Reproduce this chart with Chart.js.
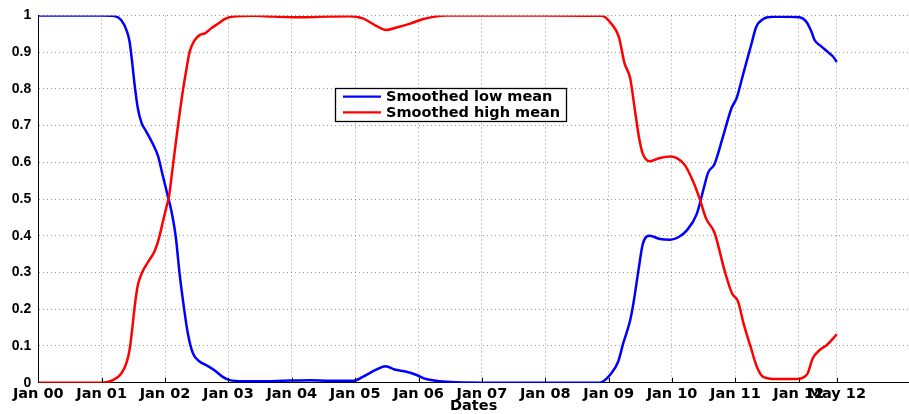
<!DOCTYPE html>
<html><head><meta charset="utf-8">
<script src="https://cdn.jsdelivr.net/npm/chart.js@4.4.1/dist/chart.umd.min.js"></script>
<style>html,body{margin:0;padding:0;background:#fff;}</style>
</head><body>
<canvas id="c" width="909" height="414"></canvas>
<script>
// Years since Jan 00 (x) and values for each series
const lowYears = [0,1.0,1.18,1.31,1.40,1.44,1.48,1.52,1.57,1.63,1.70,1.81,1.89,1.96,2.03,2.10,2.17,2.23,2.29,2.36,2.44,2.55,2.65,2.78,2.91,3.02,3.23,3.6,4.0,4.28,4.6,4.97,5.12,5.34,5.48,5.62,5.81,5.97,6.12,6.33,6.6,7.0,8.0,8.86,8.94,9.02,9.15,9.23,9.34,9.39,9.47,9.54,9.65,9.81,9.97,10.10,10.23,10.39,10.49,10.57,10.67,10.80,10.94,11.02,11.12,11.25,11.33,11.44,11.60,11.86,12.01,12.12,12.20,12.25,12.36,12.46,12.54,12.6];
const lowValues = [1,1,0.999,0.987,0.956,0.929,0.874,0.811,0.748,0.707,0.685,0.649,0.617,0.567,0.518,0.468,0.396,0.296,0.215,0.134,0.080,0.057,0.048,0.034,0.016,0.007,0.004,0.004,0.006,0.007,0.005,0.005,0.016,0.036,0.045,0.036,0.030,0.021,0.010,0.004,0.001,0,0,0,0.007,0.021,0.057,0.107,0.170,0.215,0.305,0.378,0.400,0.391,0.389,0.396,0.414,0.459,0.522,0.572,0.595,0.667,0.748,0.775,0.838,0.920,0.969,0.990,0.996,0.996,0.995,0.983,0.956,0.933,0.915,0.900,0.888,0.873];
const highYears = [0,1.0,1.18,1.31,1.39,1.44,1.48,1.52,1.57,1.64,1.73,1.84,1.90,1.97,2.02,2.06,2.12,2.20,2.28,2.34,2.39,2.47,2.55,2.63,2.73,2.84,2.94,3.07,3.39,3.70,4.23,4.55,4.91,5.12,5.34,5.49,5.65,5.86,6.05,6.23,6.44,7,8,8.89,9.04,9.16,9.25,9.34,9.41,9.48,9.54,9.65,9.81,9.97,10.07,10.20,10.33,10.43,10.54,10.67,10.83,10.95,11.04,11.13,11.24,11.34,11.44,11.65,11.96,12.07,12.14,12.22,12.33,12.44,12.54,12.6];
const highValues = [0,0,0.007,0.025,0.053,0.089,0.143,0.206,0.265,0.301,0.328,0.360,0.391,0.441,0.477,0.504,0.585,0.694,0.793,0.856,0.902,0.933,0.947,0.951,0.965,0.978,0.990,0.997,0.999,0.997,0.995,0.997,0.998,0.992,0.971,0.960,0.967,0.977,0.989,0.996,1.0,1,1,0.999,0.978,0.942,0.870,0.829,0.748,0.667,0.623,0.603,0.612,0.616,0.612,0.593,0.549,0.504,0.446,0.409,0.305,0.242,0.222,0.161,0.098,0.043,0.016,0.010,0.010,0.014,0.025,0.066,0.089,0.102,0.120,0.132];
const tickYears = [0,1,2,3,4,5,6,7,8,9,10,11,12,12.6];
const tickLabels = ['Jan 00','Jan 01','Jan 02','Jan 03','Jan 04','Jan 05','Jan 06','Jan 07','Jan 08','Jan 09','Jan 10','Jan 11','Jan 12','May 12'];
const seriesLabels = ['Smoothed low mean','Smoothed high mean'];

const legendPlugin = {
  id: 'boxLegend',
  afterDraw(chart) {
    const ctx = chart.ctx;
    ctx.save();
    const bx = 335, by = 88, bw = 231, bh = 33;
    ctx.fillStyle = '#fff';
    ctx.fillRect(bx, by, bw, bh);
    ctx.strokeStyle = '#000';
    ctx.lineWidth = 1.3;
    ctx.strokeRect(bx + 0.5, by + 0.5, bw, bh);
    const rows = [96.7, 112.3];
    chart.data.datasets.forEach((ds, i) => {
      ctx.strokeStyle = ds.borderColor;
      ctx.lineWidth = 2.2;
      ctx.beginPath();
      ctx.moveTo(343, rows[i]);
      ctx.lineTo(381, rows[i]);
      ctx.stroke();
      ctx.fillStyle = '#000';
      ctx.font = "bold 14.5px 'DejaVu Sans'";
      ctx.textBaseline = 'middle';
      ctx.textAlign = 'left';
      ctx.fillText(ds.label, 386, rows[i] + 0.5);
    });
    ctx.restore();
  }
};

const tickMarkPlugin = {
  id: 'inTicks',
  afterDatasetsDraw(chart) {
    const ctx = chart.ctx, xs = chart.scales.x, ca = chart.chartArea;
    ctx.save();
    ctx.strokeStyle = '#000';
    ctx.lineWidth = 1;
    xs.ticks.forEach(t => {
      const px = Math.round(xs.getPixelForValue(t.value)) + 0.5;
      ctx.beginPath();
      ctx.moveTo(px, ca.bottom);
      ctx.lineTo(px, ca.bottom - 5);
      ctx.stroke();
    });
    ctx.restore();
  }
};

new Chart(document.getElementById('c'), {
  type: 'line',
  data: {
    datasets: [
      { label: seriesLabels[0], data: lowYears.map((x, i) => ({ x, y: lowValues[i] })),
        borderColor: '#0000ff', borderWidth: 2.5, pointRadius: 0, fill: false,
        cubicInterpolationMode: 'monotone', order: 1 },
      { label: seriesLabels[1], data: highYears.map((x, i) => ({ x, y: highValues[i] })),
        borderColor: '#ff0000', borderWidth: 2.5, pointRadius: 0, fill: false,
        cubicInterpolationMode: 'monotone', order: 0 }
    ]
  },
  options: {
    responsive: false,
    animation: false,
    layout: { padding: { top: 13.7, left: 0, right: 0, bottom: 0 } },
    plugins: { legend: { display: false }, tooltip: { enabled: false } },
    scales: {
      x: {
        type: 'linear', min: 0, max: 13.74,
        afterBuildTicks: s => { s.ticks = tickYears.map(v => ({ value: v })); },
        afterFit: s => { s.height = 31.3; },
        ticks: { autoSkip: false, maxRotation: 0, minRotation: 0, padding: 3, color: '#000',
          font: { family: "'DejaVu Sans'", size: 14.5, weight: 'bold' },
          callback: (v, i) => tickLabels[i] },
        grid: { color: 'rgba(0,0,0,0.4)', lineWidth: 1, drawTicks: false },
        border: { display: true, color: '#000', width: 1, dash: [1, 3] },
        title: { display: true, text: 'Dates', color: '#000', padding: { top: 0, bottom: -1 },
          font: { family: "'DejaVu Sans'", size: 14.5, weight: 'bold' } }
      },
      y: {
        type: 'linear', min: 0, max: 1,
        afterFit: s => { s.width = 38.3; },
        ticks: { stepSize: 0.1, padding: 7, color: '#000',
          font: { family: "'Liberation Sans'", size: 14, weight: 'bold' },
          callback: v => String(+v.toFixed(1)) },
        grid: { color: 'rgba(0,0,0,0.4)', lineWidth: 1, drawTicks: false },
        border: { display: true, color: '#000', width: 1, dash: [1, 3] }
      }
    }
  },
  plugins: [legendPlugin, tickMarkPlugin]
});
</script>
</body></html>
